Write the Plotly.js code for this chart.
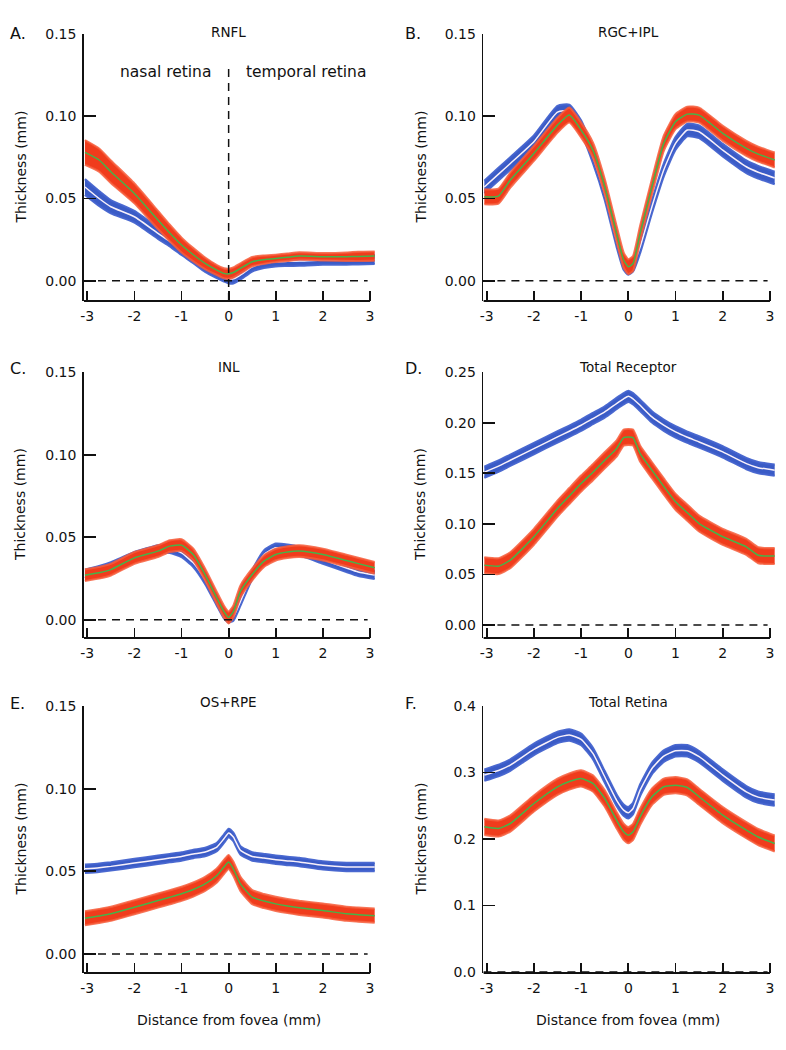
<!DOCTYPE html>
<html>
<head>
<meta charset="utf-8">
<script src="https://cdn.plot.ly/plotly-3.0.1.min.js"></script>
<style>
  body { margin: 0; background: #fff; }
  #plot { width: 786px; height: 1050px; }
</style>
</head>
<body>
<div id="plot"></div>
<script>
// Retinal layer thickness vs distance from the fovea.
// Blue = one group (white mean line), red = other group (green mean line).

// sample positions along the scan (mm), shared by every series
const dist = [-3.05, -2.75, -2.5, -2, -1.5, -1.25, -1, -0.75, -0.5, -0.25, -0.1, 0,
              0.1, 0.25, 0.5, 0.75, 1, 1.25, 1.5, 2, 2.5, 2.75, 3.1];
const distTicks = [-3, -2, -1, 0, 1, 2, 3];
const distTickText = ['-3', '-2', '-1', '0', '1', '2', '3'];

// A. RNFL
const rnflBlue = [0.057, 0.050, 0.045, 0.0389, 0.0288, 0.024, 0.0187, 0.0138, 0.0085, 0.0045, 0.0024, 0.0012,
                  0.0012, 0.0035, 0.0085, 0.0106, 0.0116, 0.0118, 0.012, 0.0126, 0.0126, 0.0128, 0.013];
const rnflBlueSe = [0.0048, 0.0045, 0.004, 0.0035, 0.0033, 0.003, 0.003, 0.003, 0.003, 0.0028, 0.0028, 0.0028,
                    0.0028, 0.0028, 0.0028, 0.0028, 0.0028, 0.0028, 0.0028, 0.0028, 0.0028, 0.0028, 0.0028];
const rnflRed = [0.078, 0.0734, 0.0663, 0.0531, 0.0369, 0.029, 0.0217, 0.0158, 0.0106, 0.0065, 0.0045, 0.0042,
                 0.005, 0.0075, 0.0116, 0.0128, 0.0136, 0.0143, 0.015, 0.0146, 0.0146, 0.0148, 0.015];
const rnflRedSe = [0.0075, 0.007, 0.0068, 0.006, 0.0055, 0.005, 0.0045, 0.004, 0.0035, 0.003, 0.003, 0.003,
                   0.003, 0.003, 0.0028, 0.0025, 0.0022, 0.0022, 0.0022, 0.0022, 0.0025, 0.0028, 0.0028];

// B. RGC+IPL
const rgcBlue = [0.057, 0.0648, 0.0713, 0.0845, 0.1025, 0.1032, 0.0936, 0.0754, 0.0531, 0.0247, 0.0105, 0.0075,
                 0.0095, 0.0207, 0.045, 0.0673, 0.0835, 0.0916, 0.0906, 0.0794, 0.0693, 0.066, 0.0625];
const rgcBlueSe = 0.0038;
const rgcRed = [0.051, 0.0515, 0.0612, 0.0774, 0.0946, 0.1007, 0.0916, 0.0794, 0.0572, 0.0288, 0.0126, 0.0085,
                0.0105, 0.0288, 0.0572, 0.0835, 0.0967, 0.1013, 0.1007, 0.0896, 0.0805, 0.077, 0.0734];
const rgcRedSe = 0.0045;

// C. INL
const inlBlue = [0.0278, 0.030, 0.0324, 0.0385, 0.0426, 0.043, 0.0405, 0.0345, 0.0243, 0.0111, 0.0034, 0.001,
                 0.002, 0.0111, 0.0274, 0.0395, 0.0436, 0.043, 0.0416, 0.0365, 0.0314, 0.029, 0.0272];
const inlBlueSe = 0.0025;
const inlRed = [0.027, 0.0285, 0.0304, 0.0375, 0.0416, 0.0446, 0.0452, 0.0395, 0.0274, 0.0132, 0.005, 0.0014,
                0.005, 0.0172, 0.0274, 0.0355, 0.0395, 0.041, 0.0416, 0.0395, 0.0359, 0.034, 0.0315];
const inlRedSe = 0.0035;

// D. Total Receptor
const recBlue = [0.151, 0.157, 0.1628, 0.1743, 0.1859, 0.1915, 0.1974, 0.204, 0.2105, 0.2188, 0.2235, 0.226,
                 0.2235, 0.2171, 0.2056, 0.1975, 0.1908, 0.1855, 0.1809, 0.1711, 0.1595, 0.1555, 0.153];
const recBlueSe = 0.0055;
const recRed = [0.0592, 0.0582, 0.0641, 0.0872, 0.1151, 0.1275, 0.1398, 0.151, 0.1628, 0.1743, 0.1852, 0.1859,
                0.1852, 0.1694, 0.153, 0.137, 0.1217, 0.111, 0.1003, 0.0872, 0.0773, 0.069, 0.0681];
const recRedSe = 0.0078;

// E. OS+RPE
const osBlue = [0.0515, 0.0522, 0.053, 0.055, 0.057, 0.058, 0.059, 0.0605, 0.0617, 0.0647, 0.0697, 0.0732,
                0.0708, 0.0627, 0.059, 0.058, 0.057, 0.0563, 0.0556, 0.0536, 0.0526, 0.0526, 0.0526];
const osBlueSe = 0.0025;
const osRed = [0.0216, 0.023, 0.0243, 0.0283, 0.0323, 0.0343, 0.0364, 0.039, 0.0424, 0.0475, 0.0526, 0.0556,
               0.0515, 0.0424, 0.0344, 0.032, 0.0303, 0.029, 0.0279, 0.0263, 0.0243, 0.0238, 0.0232];
const osRedSe = 0.0042;

// F. Total Retina
const totBlue = [0.2961, 0.303, 0.3112, 0.3348, 0.3528, 0.3563, 0.3498, 0.3287, 0.2936, 0.2585, 0.2434, 0.2394,
                 0.2459, 0.2735, 0.3061, 0.3247, 0.3327, 0.3327, 0.3237, 0.2961, 0.271, 0.263, 0.2585];
const totBlueSe = 0.0085;
const totRed = [0.2183, 0.2158, 0.2233, 0.2534, 0.2785, 0.2865, 0.2911, 0.2836, 0.261, 0.2284, 0.2108, 0.2058,
                0.2108, 0.2334, 0.2635, 0.2785, 0.281, 0.2775, 0.2635, 0.2359, 0.2133, 0.203, 0.1932];
const totRedSe = 0.012;

const blueStyle = {fill: '#3a5bc6', edge: 'rgba(66,98,206,0.95)', mid: '#f8f0fa'};
const redStyle = {fill: '#f03c1c', edge: 'rgba(246,92,58,0.85)', mid: '#45b449'};

const FONT = 'DejaVu Sans, Verdana, sans-serif';
const INK = '#111';
const W = 786, H = 1050;

// pixel layout of the grid (left/right columns, three rows)
const xDomains = [[84 / W, 379.4 / W], [483.4 / W, 779.4 / W]];
const rowPx = [[34, 301], [372, 638], [706, 973]];
const xRange = [-3.07, 3.2];

const panels = [
    {n: 1, col: 0, row: 0, letter: 'A.', title: 'RNFL', yrange: [-0.0123, 0.15],
     yticks: [0, 0.05, 0.1, 0.15], fmt: '.2f',
     blue: rnflBlue, blueSe: rnflBlueSe, red: rnflRed, redSe: rnflRedSe},
    {n: 2, col: 1, row: 0, letter: 'B.', title: 'RGC+IPL', yrange: [-0.0123, 0.15],
     yticks: [0, 0.05, 0.1, 0.15], fmt: '.2f',
     blue: rgcBlue, blueSe: rgcBlueSe, red: rgcRed, redSe: rgcRedSe},
    {n: 3, col: 0, row: 1, letter: 'C.', title: 'INL', yrange: [-0.011, 0.15],
     yticks: [0, 0.05, 0.1, 0.15], fmt: '.2f',
     blue: inlBlue, blueSe: inlBlueSe, red: inlRed, redSe: inlRedSe},
    {n: 4, col: 1, row: 1, letter: 'D.', title: 'Total Receptor', yrange: [-0.0128, 0.25],
     yticks: [0, 0.05, 0.1, 0.15, 0.2, 0.25], fmt: '.2f',
     blue: recBlue, blueSe: recBlueSe, red: recRed, redSe: recRedSe},
    {n: 5, col: 0, row: 2, letter: 'E.', title: 'OS+RPE', yrange: [-0.0115, 0.15],
     yticks: [0, 0.05, 0.1, 0.15], fmt: '.2f',
     blue: osBlue, blueSe: osBlueSe, red: osRed, redSe: osRedSe},
    {n: 6, col: 1, row: 2, letter: 'F.', title: 'Total Retina', yrange: [-0.0015, 0.4],
     yticks: [0, 0.1, 0.2, 0.3, 0.4], fmt: '.1f',
     blue: totBlue, blueSe: totBlueSe, red: totRed, redSe: totRedSe}
];

const py = (px) => 1 - px / H;   // pixel row -> paper y

// mean line plus a filled +/- band
function bandTraces(n, mean, se, sty) {
    const sfx = n === 1 ? '' : n;
    const hw = (i) => Array.isArray(se) ? se[i] : se;
    const lo = mean.map((m, i) => m - hw(i));
    const hi = mean.map((m, i) => m + hw(i));
    const base = {x: dist, xaxis: 'x' + sfx, yaxis: 'y' + sfx, mode: 'lines',
                  hoverinfo: 'skip', showlegend: false};
    const edge = {color: sty.edge, width: 2.2, shape: 'spline', smoothing: 0.5};
    return [
        Object.assign({}, base, {y: lo, line: edge}),
        Object.assign({}, base, {y: hi, line: edge, fill: 'tonexty', fillcolor: sty.fill}),
        Object.assign({}, base, {y: mean, line: {color: sty.mid, width: 1.5,
                                                 shape: 'spline', smoothing: 0.5}})
    ];
}

const data = [];
const layout = {
    width: W, height: H,
    margin: {l: 0, r: 0, t: 0, b: 0},
    paper_bgcolor: '#fff', plot_bgcolor: '#fff',
    showlegend: false,
    font: {family: FONT, color: INK, size: 14},
    shapes: [], annotations: []
};

panels.forEach((p) => {
    data.push(...bandTraces(p.n, p.blue, p.blueSe, blueStyle));
    data.push(...bandTraces(p.n, p.red, p.redSe, redStyle));

    const sfx = p.n === 1 ? '' : p.n;
    const rp = rowPx[p.row];
    const yDom = [py(rp[1]), py(rp[0])];

    layout['xaxis' + sfx] = {
        domain: xDomains[p.col], range: xRange, anchor: 'y' + sfx,
        showgrid: false, zeroline: false, showline: false,
        ticks: 'inside', ticklen: 10, tickwidth: 1.8, tickcolor: INK,
        tickvals: distTicks, ticktext: distTickText,
        tickfont: {family: FONT, size: 14, color: INK}, ticklabelstandoff: 5
    };
    layout['yaxis' + sfx] = {
        domain: yDom, range: p.yrange, anchor: 'x' + sfx,
        showgrid: false, zeroline: false,
        showline: true, linewidth: 1.8, linecolor: INK,
        ticks: 'inside', ticklen: 12, tickwidth: 1.8, tickcolor: INK,
        tickvals: p.yticks, tickformat: p.fmt,
        tickfont: {family: FONT, size: 14, color: INK}, ticklabelstandoff: 3
    };

    // bottom axis line stops at 3 mm
    layout.shapes.push({type: 'line', xref: 'x' + sfx, yref: 'paper',
                        x0: xRange[0], x1: 3, y0: yDom[0], y1: yDom[0],
                        line: {color: INK, width: 1.8}});
    // zero reference
    layout.shapes.push({type: 'line', xref: 'x' + sfx, yref: 'y' + sfx,
                        x0: xRange[0], x1: 2.95, y0: 0, y1: 0,
                        line: {color: INK, width: 1.5, dash: '8px,6px'}});

    const titleY = [32, 367, 702][p.row];
    layout.annotations.push({text: p.title, xref: 'x' + sfx, yref: 'paper', x: 0, y: py(titleY),
                             showarrow: false, xanchor: 'center', yanchor: 'middle',
                             font: {family: FONT, size: 13.5, color: INK}});
    layout.annotations.push({text: p.letter, xref: 'paper', yref: 'paper',
                             x: (p.col === 0 ? 8 : 403) / W, y: py(titleY + 1),
                             showarrow: false, xanchor: 'left', yanchor: 'middle',
                             font: {family: FONT, size: 16, color: INK}});
    layout.annotations.push({text: 'Thickness (mm)', xref: 'paper', yref: 'paper',
                             x: (p.col === 0 ? 20 : 420) / W, y: py((rp[0] + rp[1]) / 2),
                             textangle: -90, showarrow: false,
                             xanchor: 'center', yanchor: 'middle',
                             font: {family: FONT, size: 14, color: INK}});
    if (p.row === 2) {
        layout.annotations.push({text: 'Distance from fovea (mm)', xref: 'x' + sfx, yref: 'paper',
                                 x: 0, y: py(1020), showarrow: false,
                                 xanchor: 'center', yanchor: 'middle',
                                 font: {family: FONT, size: 14, color: INK}});
    }
});

// fovea divider and region labels in panel A
layout.shapes.push({type: 'line', xref: 'x', yref: 'y', x0: 0, x1: 0, y0: -0.0123, y1: 0.13,
                    line: {color: INK, width: 1.5, dash: '8px,6px'}});
layout.annotations.push({text: 'nasal retina', xref: 'x', yref: 'y', x: -1.35, y: 0.127,
                         showarrow: false, font: {family: FONT, size: 15.5, color: INK}});
layout.annotations.push({text: 'temporal retina', xref: 'x', yref: 'y', x: 1.64, y: 0.127,
                         showarrow: false, font: {family: FONT, size: 15.5, color: INK}});

Plotly.newPlot('plot', data, layout, {staticPlot: true, displayModeBar: false});
</script>
</body>
</html>
